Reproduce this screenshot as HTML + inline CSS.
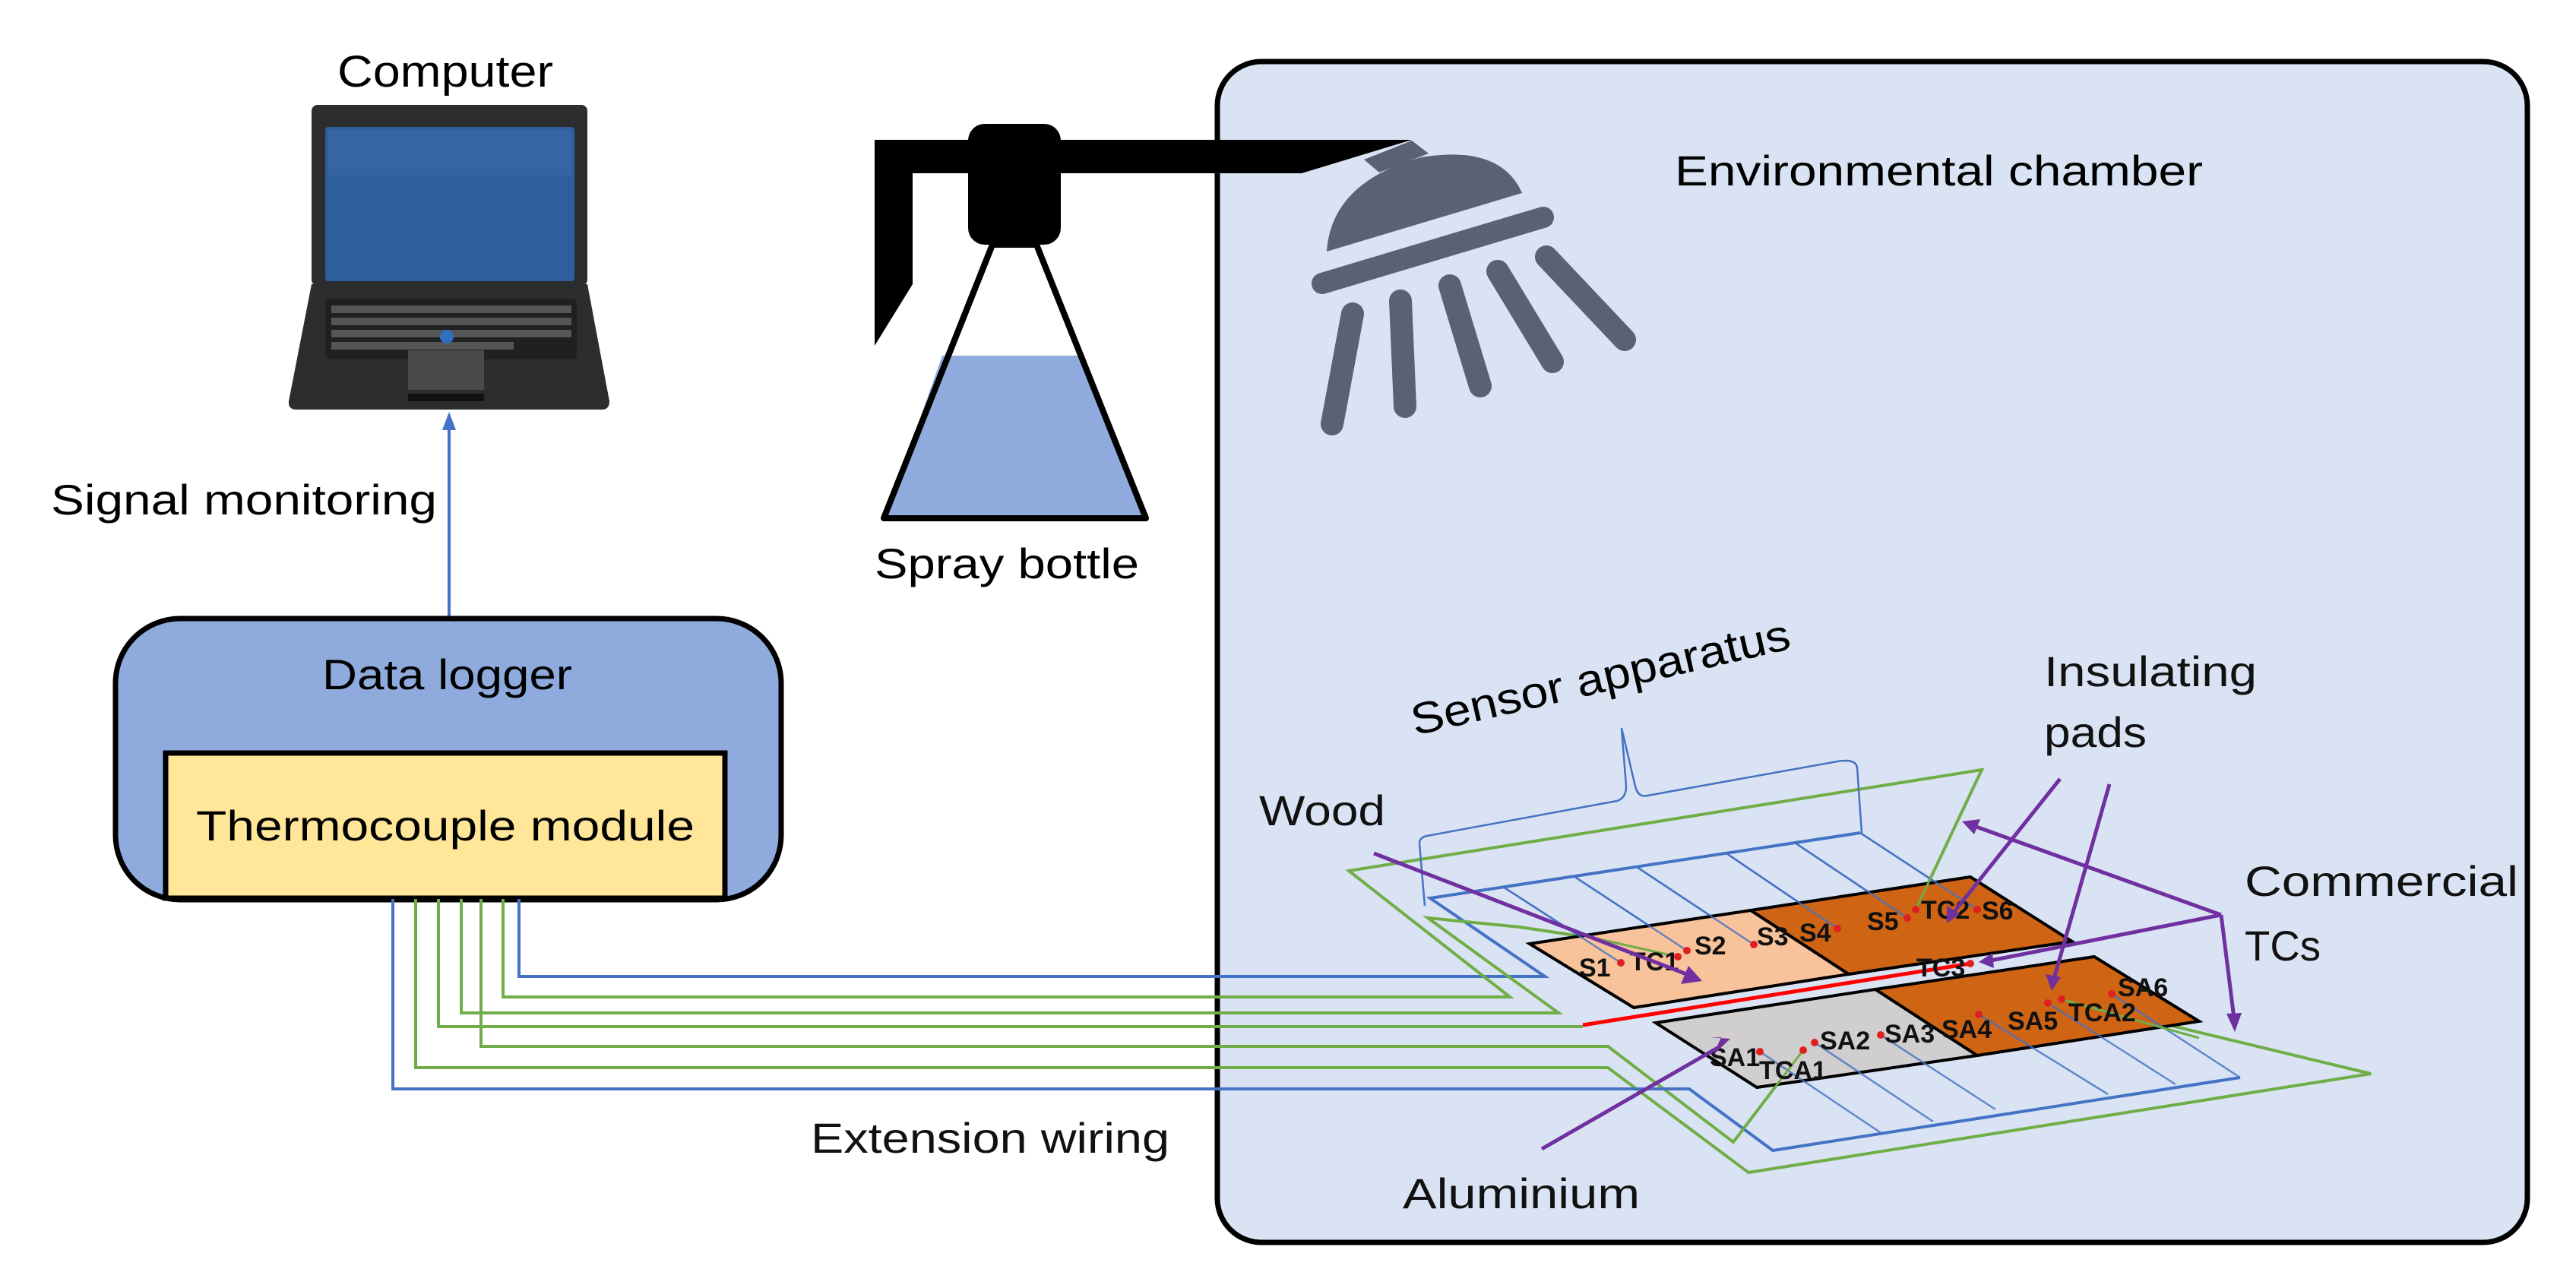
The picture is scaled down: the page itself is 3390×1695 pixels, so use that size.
<!DOCTYPE html>
<html><head><meta charset="utf-8"><style>html,body{margin:0;padding:0;background:#fff}svg{display:block}</style></head>
<body>
<svg xmlns="http://www.w3.org/2000/svg" width="3390" height="1695" viewBox="0 0 3390 1695" font-family="Liberation Sans, sans-serif">
<rect width="3390" height="1695" fill="#fff"/>
<!-- chamber -->
<rect x="1602" y="81" width="1724" height="1554" rx="58" fill="#dae3f3" stroke="#000" stroke-width="7"/>
<text x="2204" y="244" font-size="56" textLength="695" lengthAdjust="spacingAndGlyphs">Environmental chamber</text>

<!-- laptop -->
<rect x="410" y="138" width="363" height="238" rx="8" fill="#2b2d2f"/>
<rect x="428" y="167" width="328" height="203" rx="4" fill="#2f5e9e"/>
<rect x="432" y="171" width="320" height="60" fill="#3d6aa8" opacity="0.6"/>
<path d="M410,374 L773,374 L802,528 Q802,539 792,539 L390,539 Q379,539 380,528 Z" fill="#2b2d2f"/>
<rect x="428" y="393" width="331" height="80" rx="6" fill="#1f2022"/>
<g fill="#555">
<rect x="436" y="402" width="316" height="10"/><rect x="436" y="418" width="316" height="10"/><rect x="436" y="434" width="316" height="10"/><rect x="436" y="450" width="240" height="10"/>
</g>
<circle cx="588" cy="443" r="9" fill="#2f6fc0"/>
<rect x="537" y="461" width="100" height="52" fill="#4a4a4a"/>
<rect x="537" y="518" width="100" height="10" fill="#111"/>
<text x="444" y="114" font-size="58" textLength="284" lengthAdjust="spacingAndGlyphs">Computer</text>

<!-- signal arrow -->
<line x1="591" y1="813" x2="591" y2="560" stroke="#4472c4" stroke-width="4"/>
<polygon points="591,542 582,566 600,566" fill="#4472c4"/>
<text x="67" y="677" font-size="56" textLength="508" lengthAdjust="spacingAndGlyphs">Signal monitoring</text>

<!-- data logger -->
<rect x="152" y="814" width="876" height="370" rx="85" fill="#8faadc" stroke="#000" stroke-width="7"/>
<text x="424" y="907" font-size="56" textLength="329" lengthAdjust="spacingAndGlyphs">Data logger</text>
<rect x="218" y="991" width="736" height="191" fill="#ffe699" stroke="#000" stroke-width="7"/>
<text x="258" y="1106" font-size="56" textLength="656" lengthAdjust="spacingAndGlyphs">Thermocouple module</text>

<!-- spray bottle -->
<polygon points="1151,184 1858,184 1713,228 1201,228 1201,374 1151,455" fill="#000"/>
<rect x="1274" y="163" width="122" height="159" rx="22" fill="#000"/>
<polygon points="1306,322 1364,322 1508,682 1163,682" fill="#fff" stroke="#000" stroke-width="8" stroke-linejoin="round"/>
<polygon points="1240,468 1422,468 1506,680 1165,680" fill="#8faadc"/>
<line x1="1163" y1="682" x2="1508" y2="682" stroke="#000" stroke-width="8"/>
<line x1="1306" y1="322" x2="1163" y2="682" stroke="#000" stroke-width="8"/>
<line x1="1364" y1="322" x2="1508" y2="682" stroke="#000" stroke-width="8"/>
<text x="1151" y="761" font-size="56" textLength="348" lengthAdjust="spacingAndGlyphs">Spray bottle</text>

<!-- shower head -->
<g fill="#596273" stroke="#596273" stroke-linecap="round">
<polygon points="1858,185 1880,202 1815,227 1795,210" stroke="none"/>
<path d="M1746,331 Q1752,240 1870,207 Q1975,190 2003,254 Z" stroke="none"/>
<line x1="1740" y1="373" x2="2031" y2="286" stroke-width="28"/>
<g stroke-width="30">
<line x1="1780" y1="413" x2="1753" y2="558"/>
<line x1="1843" y1="396" x2="1849" y2="535"/>
<line x1="1908" y1="376" x2="1948" y2="508"/>
<line x1="1971" y1="357" x2="2043" y2="476"/>
<line x1="2035" y1="338" x2="2138" y2="447"/>
</g></g>

<!-- wires -->
<g fill="none" stroke-width="4" stroke-linejoin="miter">
<polyline stroke="#4472c4" points="683,1183 683,1285 2033,1285 1882,1182 2448,1096"/>
<polyline stroke="#70ad47" points="662,1183 662,1312 1987,1312 1775,1146 2608,1013 2521,1197"/>
<polyline stroke="#70ad47" points="607,1183 607,1333 2051,1333 1879,1208 2000,1220 2100,1235 2208,1259"/>
<polyline stroke="#70ad47" points="577,1183 577,1351 2083,1351"/>
<polyline stroke="#70ad47" points="633,1183 633,1377 2116,1377 2281,1503 2373,1382"/>
<polyline stroke="#70ad47" points="547,1183 547,1405 2116,1405 2301,1543 3120,1413 2713,1315"/>
<polyline stroke="#4472c4" points="517,1183 517,1433 2223,1433 2333,1514 2948,1418"/>
</g>
<line x1="2083" y1="1349" x2="2593" y2="1268" stroke="#ff0000" stroke-width="5"/>

<!-- bracket -->
<path d="M1875,1192 L1868,1110 Q1868,1102 1878,1100 L2128,1054 Q2140,1050 2140,1035 L2134,958 L2152,1035 Q2156,1050 2168,1047 L2418,1002 Q2442,998 2444,1010 L2450,1096" fill="none" stroke="#4472c4" stroke-width="2.5"/>
<text transform="translate(1862,968) rotate(-13)" font-size="58" textLength="510" lengthAdjust="spacingAndGlyphs">Sensor apparatus</text>

<!-- top rungs -->
<g stroke="#4472c4" stroke-width="2.5">
<line x1="1978" y1="1167" x2="2133" y2="1267"/>
<line x1="2071" y1="1153" x2="2220" y2="1251"/>
<line x1="2154" y1="1141" x2="2308" y2="1243"/>
<line x1="2272" y1="1123" x2="2418" y2="1222"/>
<line x1="2362" y1="1109" x2="2510" y2="1208"/>
<line x1="2448" y1="1096" x2="2602" y2="1197"/>
</g>

<!-- pads -->
<polygon points="2013,1242 2304,1198 2433,1282 2150,1326" fill="#f8c29a" stroke="#000" stroke-width="4"/>
<polygon points="2304,1198 2593,1154 2727,1239 2433,1282" fill="#cf6414" stroke="#000" stroke-width="4"/>
<polygon points="2179,1346 2468,1302 2602,1389 2312,1431" fill="#d0cece" stroke="#000" stroke-width="4"/>
<polygon points="2468,1302 2756,1259 2894,1344 2602,1389" fill="#cf6414" stroke="#000" stroke-width="4"/>

<!-- rungs over pads -->
<g stroke="#4472c4" stroke-width="2.5" opacity="0.8">
<line x1="1978" y1="1167" x2="2133" y2="1267"/>
<line x1="2071" y1="1153" x2="2220" y2="1251"/>
<line x1="2154" y1="1141" x2="2308" y2="1243"/>
<line x1="2272" y1="1123" x2="2418" y2="1222"/>
<line x1="2362" y1="1109" x2="2510" y2="1208"/>
<line x1="2448" y1="1096" x2="2602" y2="1197"/>
<line x1="2316" y1="1384" x2="2477" y2="1492"/>
<line x1="2388" y1="1372" x2="2544" y2="1476"/>
<line x1="2475" y1="1362" x2="2626" y2="1460"/>
<line x1="2604" y1="1335" x2="2774" y2="1440"/>
<line x1="2695" y1="1320" x2="2863" y2="1427"/>
<line x1="2779" y1="1308" x2="2948" y2="1418"/>
</g>
<g stroke="#70ad47" stroke-width="3" fill="none">
<polyline points="2100,1235 2208,1259"/>
<line x1="2281" y1="1503" x2="2373" y2="1382"/>
<line x1="2608" y1="1013" x2="2521" y2="1197"/>
<line x1="2894" y1="1366" x2="2713" y2="1315"/>
</g>

<!-- dots -->
<g fill="#e02020">
<circle cx="2133" cy="1267" r="5"/><circle cx="2208" cy="1259" r="5"/><circle cx="2220" cy="1251" r="5"/><circle cx="2308" cy="1243" r="5"/><circle cx="2418" cy="1222" r="5"/><circle cx="2510" cy="1208" r="5"/><circle cx="2521" cy="1197" r="5"/><circle cx="2602" cy="1197" r="5"/><circle cx="2593" cy="1268" r="5"/>
<circle cx="2316" cy="1384" r="5"/><circle cx="2373" cy="1382" r="5"/><circle cx="2388" cy="1372" r="5"/><circle cx="2475" cy="1362" r="5"/><circle cx="2604" cy="1335" r="5"/><circle cx="2695" cy="1320" r="5"/><circle cx="2713" cy="1315" r="5"/><circle cx="2779" cy="1308" r="5"/>
</g>
<g font-size="34" font-weight="bold" fill="#111">
<text x="2078" y="1285">S1</text><text x="2145" y="1277">TC1</text><text x="2230" y="1256">S2</text><text x="2312" y="1244">S3</text><text x="2368" y="1239">S4</text><text x="2457" y="1224">S5</text><text x="2528" y="1209">TC2</text><text x="2608" y="1210">S6</text><text x="2522" y="1285">TC3</text>
<text x="2250" y="1403">SA1</text><text x="2315" y="1420">TCA1</text><text x="2395" y="1381">SA2</text><text x="2480" y="1372">SA3</text><text x="2555" y="1366">SA4</text><text x="2642" y="1355">SA5</text><text x="2722" y="1344">TCA2</text><text x="2787" y="1311">SA6</text>
</g>

<!-- purple arrows -->
<g stroke="#7030a0" stroke-width="5" fill="none">
<line x1="1808" y1="1123" x2="2222" y2="1283"/>
<line x1="2029" y1="1512" x2="2262" y2="1378"/>
<line x1="2711" y1="1025" x2="2570" y2="1202"/>
<line x1="2776" y1="1032" x2="2703" y2="1288"/>
<line x1="2923" y1="1204" x2="2598" y2="1087"/>
<line x1="2923" y1="1204" x2="2620" y2="1264"/>
<line x1="2923" y1="1204" x2="2940" y2="1340"/>
</g>
<g fill="#7030a0">
<polygon points="2240,1291 2212,1295 2222,1271"/>
<polygon points="2277,1367 2255,1388 2265,1365 2250,1365"/>
<polygon points="2562,1215 2562,1192 2579,1203"/>
<polygon points="2700,1304 2692,1282 2712,1286"/>
<polygon points="2582,1081 2606,1078 2598,1098"/>
<polygon points="2604,1266 2622,1254 2624,1274"/>
<polygon points="2941,1358 2930,1334 2950,1333"/>
</g>

<g font-size="56" fill="#111">
<text x="1657" y="1086" textLength="166" lengthAdjust="spacingAndGlyphs">Wood</text>
<text x="1846" y="1590" textLength="312" lengthAdjust="spacingAndGlyphs">Aluminium</text>
<text x="2690" y="903" textLength="280" lengthAdjust="spacingAndGlyphs">Insulating</text>
<text x="2690" y="983" textLength="135" lengthAdjust="spacingAndGlyphs">pads</text>
<text x="2954" y="1179" textLength="360" lengthAdjust="spacingAndGlyphs">Commercial</text>
<text x="2954" y="1264" textLength="100" lengthAdjust="spacingAndGlyphs">TCs</text>
<text x="1067" y="1517" textLength="472" lengthAdjust="spacingAndGlyphs">Extension wiring</text>
</g>
</svg>
</body></html>
